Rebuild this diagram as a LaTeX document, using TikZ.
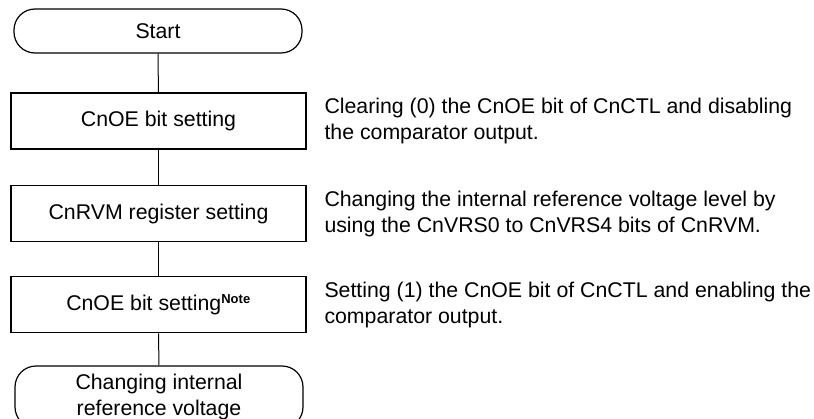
\documentclass[tikz,border=0pt]{standalone}
\usepackage{fontspec}
\setmainfont{Liberation Sans}
\usepackage{tikz}
\usetikzlibrary{positioning}

\begin{document}
\begin{tikzpicture}[x=1pt,y=-1pt,
  every node/.style={font=\fontsize{21.3}{26}\selectfont},
  term/.style={draw,line width=1.2pt,rounded corners=21pt,minimum width=288pt,inner sep=0pt},
  stepbox/.style={draw,line width=1.6pt,minimum width=295pt,minimum height=56pt,inner sep=0pt},
  desc/.style={align=left,inner sep=0pt},
  link/.style={line width=1pt}]
  \useasboundingbox (0,0) rectangle (814,418);

  % Terminals
  \node[term,minimum height=44pt] (start) at (158,31) {Start};
  \node[term,minimum height=62pt,align=center] (finish) at (159,397)
    {Changing internal\\reference voltage};

  % Steps
  \node[stepbox] (oeoff) at (158.5,121) {CnOE bit setting};
  \node[stepbox] (rvm) at (158.5,213.5) {CnRVM register setting};
  \node[stepbox] (oeon) at (158.5,304.5)
    {CnOE bit setting\textsuperscript{\fontsize{13}{13}\selectfont\bfseries Note}};

  % Descriptions
  \node[desc,right=17.5pt of oeoff] (dsoff) {Clearing (0) the CnOE bit of CnCTL and disabling\\the comparator output.};
  \node[desc,right=17.5pt of rvm] (dsrvm) {Changing the internal reference voltage level by\\using the CnVRS0 to CnVRS4 bits of CnRVM.};
  \node[desc,right=17.5pt of oeon] (dson) {Setting (1) the CnOE bit of CnCTL and enabling the\\comparator output.};

  % Flow
  \draw[link] (start) -- (oeoff);
  \draw[link] (oeoff) -- (rvm);
  \draw[link] (rvm) -- (oeon);
  \draw[link] (oeon) -- (finish);
\end{tikzpicture}
\end{document}
